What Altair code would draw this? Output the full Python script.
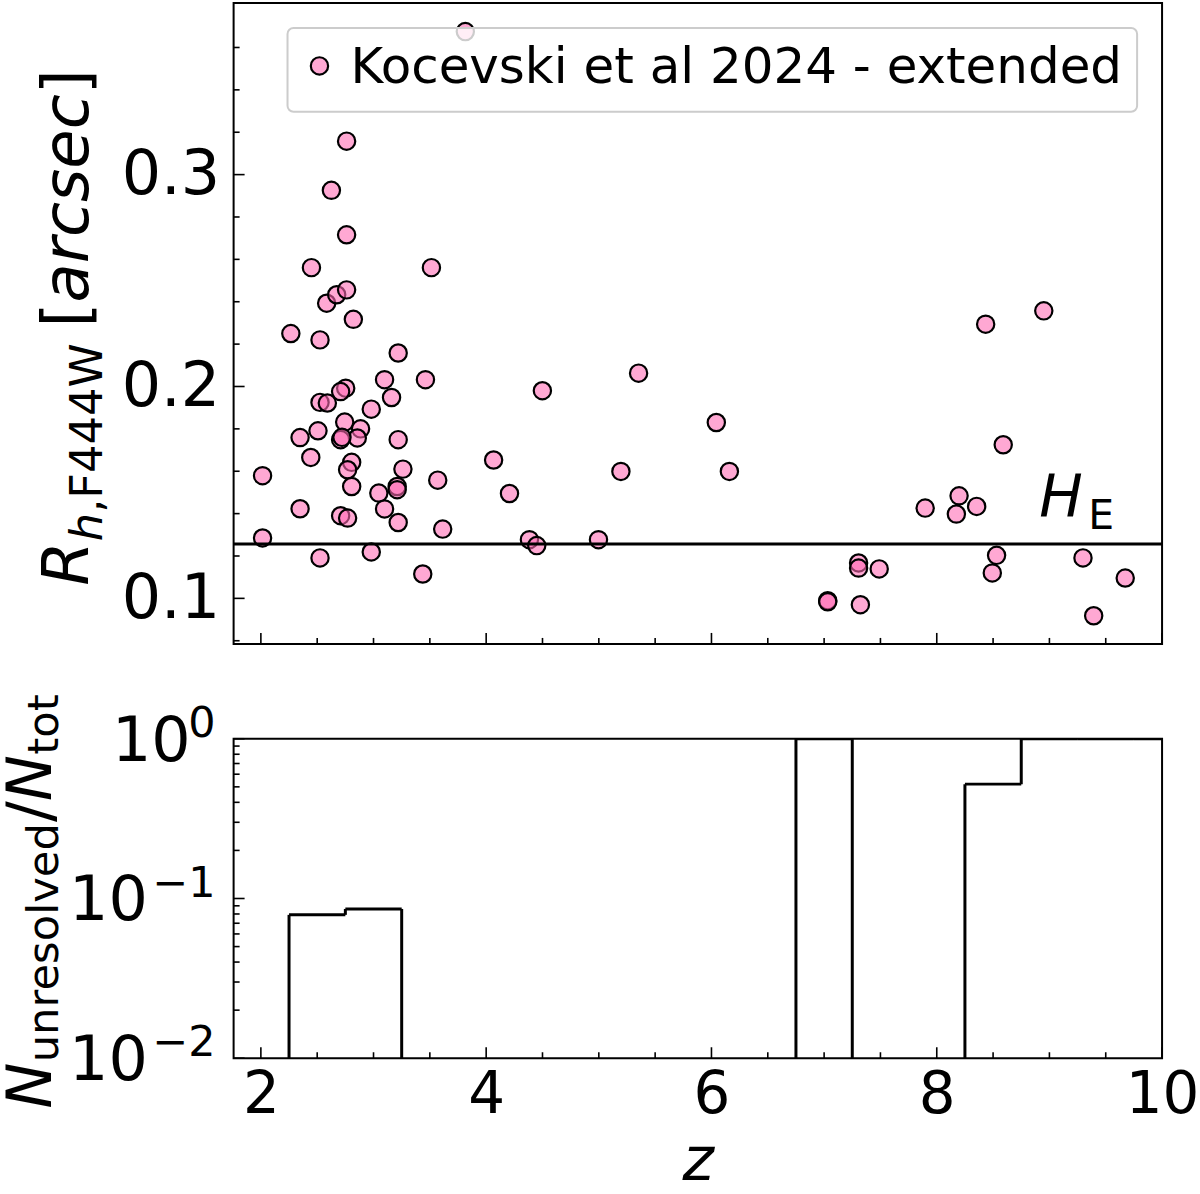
import altair as alt
import pandas as pd

# ---------------- data ----------------
z = [3.815, 2.761, 2.626, 2.761, 2.449, 3.514, 2.584, 2.673, 2.761, 2.821,
     2.266, 2.525, 3.219, 3.098, 3.461, 4.499, 3.160, 2.753, 2.708, 2.525,
     2.590, 2.980, 2.744, 2.885, 2.856, 2.708, 2.720, 2.507, 2.348, 3.219,
     2.443, 2.015, 2.806, 2.770, 3.261, 2.806, 3.570, 3.210, 3.210, 4.066,
     3.047, 4.207, 2.348, 3.098, 2.708, 2.770, 3.219, 3.614, 2.015, 4.384,
     4.449, 2.525, 2.980, 3.437, 5.353, 6.043, 5.196, 6.159, 4.997, 7.306,
     7.306, 7.032, 7.032, 7.322, 8.950, 8.434, 8.590, 7.897, 8.198, 8.174,
     8.354, 7.489, 8.531, 8.493, 9.298, 9.393, 9.673]
r_h = [0.3675, 0.3158, 0.2926, 0.2716, 0.2561, 0.2561, 0.2393, 0.2433, 0.2456, 0.2317,
       0.2250, 0.2220, 0.2158, 0.2032, 0.2032, 0.1980, 0.1948, 0.1992, 0.1976, 0.1925,
       0.1922, 0.1893, 0.1832, 0.1800, 0.1757, 0.1749, 0.1760, 0.1791, 0.1759, 0.1749,
       0.1665, 0.1579, 0.1642, 0.1607, 0.1610, 0.1528, 0.1558, 0.1528, 0.1513, 0.1653,
       0.1497, 0.1495, 0.1423, 0.1422, 0.1390, 0.1379, 0.1358, 0.1327, 0.1285, 0.1277,
       0.1249, 0.1191, 0.1219, 0.1115, 0.2063, 0.1830, 0.1599, 0.1599, 0.1277, 0.1167,
       0.1143, 0.0989, 0.0984, 0.0970, 0.2357, 0.2294, 0.1725, 0.1426, 0.1484, 0.1398,
       0.1434, 0.1139, 0.1203, 0.1120, 0.1191, 0.0918, 0.1096]

he_value = [0.1257]

hist_lo = [1.75, 2.25, 2.75, 3.25, 3.75, 4.25, 4.75, 5.25, 5.75, 6.25, 6.75, 7.25, 7.75, 8.25, 8.75, 9.25, 9.75]
hist_hi = [2.25, 2.75, 3.25, 3.75, 4.25, 4.75, 5.25, 5.75, 6.25, 6.75, 7.25, 7.75, 8.25, 8.75, 9.25, 9.75, 10.25]
hist_frac = [0, 0.079, 0.086, 0, 0, 0, 0, 0, 0, 0, 1.0, 0, 0, 0.52, 1.0, 1.0, 1.0]

legend_label = "Kocevski et al 2024 - extended"

top_ymajor = [0.1, 0.2, 0.3]
top_yminor = [0.08, 0.12, 0.14, 0.16, 0.18, 0.22, 0.24, 0.26, 0.28, 0.32, 0.34, 0.36]
x_major = [2, 4, 6, 8, 10]
x_minor = [2.5, 3, 3.5, 4.5, 5, 5.5, 6.5, 7, 7.5, 8.5, 9, 9.5]
bot_ymajor = [1.0, 0.1, 0.01]
bot_ylabel_exp = ["0", "−1", "−2"]
bot_yminor = [0.02, 0.03, 0.04, 0.05, 0.06, 0.07, 0.08, 0.09,
              0.2, 0.3, 0.4, 0.5, 0.6, 0.7, 0.8, 0.9]

# ---------------- layout / style ----------------
W, H1, H2 = 930, 642, 320
FONT = "DejaVu Sans"
YTICK_FS = 62
XTICK_FS = 58
EXP_FS = 43
MAJ, MIN = 11, 6
BASE_RIGHT = [-43, -86, -86]   # right edge of the "10" part of each log label (px)
EXP_RIGHT = -18                # right edge of the exponent (px)

xscale = alt.Scale(domain=[1.758, 10.0], nice=False, zero=False)
y1scale = alt.Scale(domain=[0.0785, 0.381], nice=False, zero=False)
y2scale = alt.Scale(type="log", domain=[0.01, 1.0], nice=False)

ax_top_y = alt.Axis(values=top_ymajor, format=".1f", labelFontSize=YTICK_FS, labelFont=FONT,
                    labelColor="black", labelPadding=14, ticks=False, tickSize=0, domain=False,
                    grid=False, title=None)
ax_bot_x = alt.Axis(values=x_major, format="d", labelFontSize=XTICK_FS, labelFont=FONT,
                    labelColor="black", labelPadding=8, labelFlush=False, ticks=False, tickSize=0,
                    domain=False, grid=False, title="z", titleFont=FONT, titleFontSize=60,
                    titleFontStyle="italic", titleFontWeight="normal", titleColor="black",
                    titlePadding=8)

# DejaVu Sans advance widths (em)
ADV = {"R": .695, "h": .634, ",": .318, "F": .575, "4": .636, "W": .989, "[": .390,
       "a": .613, "r": .411, "c": .550, "s": .521, "e": .615, "]": .390, "N": .748,
       "u": .634, "n": .634, "o": .612, "l": .278, "v": .592, "d": .635, "/": .337,
       "t": .392, " ": .318}

dummy = pd.DataFrame({"k": [0]})


def text_width(t, fs):
    return sum(ADV.get(ch, 0.6) for ch in t) * fs


def rotated_title(segs, x_main, x_sub, center, fb):
    # segs: (text, big, italic, extra_gap_after)
    fs_sub = 0.7 * fb
    total = sum(text_width(t, fb if big else fs_sub) + g for t, big, _, g in segs)
    y = center + total / 2
    out = []
    for t, big, ital, g in segs:
        fs = fb if big else fs_sub
        out.append(alt.Chart(dummy).mark_text(
            text=t, angle=270, align="left", baseline="alphabetic", font=FONT,
            fontSize=fs, fontStyle="italic" if ital else "normal", color="black"
        ).encode(x=alt.value(x_main if big else x_sub), y=alt.value(y)))
        y -= text_width(t, fs) + g
    return out


def yticks(vals, length, scale, axis):
    return alt.Chart(pd.DataFrame({"v": vals})).mark_rule(color="black", strokeWidth=1.6).encode(
        y=alt.Y("v:Q", scale=scale, axis=axis), x=alt.value(0), x2=alt.value(length))


def xticks(vals, length, scale, h, axis):
    return alt.Chart(pd.DataFrame({"v": vals})).mark_rule(color="black", strokeWidth=1.6).encode(
        x=alt.X("v:Q", scale=scale, axis=axis), y=alt.value(h), y2=alt.value(h - length))


# ---------------- top panel ----------------
pts_df = pd.DataFrame({"z": z, "r": r_h})
points = alt.Chart(pts_df).mark_circle(
    size=300, fill="hotpink", fillOpacity=0.58, stroke="black", strokeWidth=2.2, opacity=1
).encode(
    x=alt.X("z:Q", scale=xscale, axis=None),
    y=alt.Y("r:Q", scale=y1scale, axis=ax_top_y),
)

he_rule = alt.Chart(pd.DataFrame({"he": he_value})).mark_rule(color="black", strokeWidth=3).encode(
    y=alt.Y("he:Q", scale=y1scale, axis=ax_top_y))

he_H = alt.Chart(dummy).mark_text(text="H", font=FONT, fontSize=58, fontStyle="italic",
                                  align="left", baseline="alphabetic", color="black").encode(
    x=alt.value(807), y=alt.value(514))
he_E = alt.Chart(dummy).mark_text(text="E", font=FONT, fontSize=41,
                                  align="left", baseline="alphabetic", color="black").encode(
    x=alt.value(856), y=alt.value(527))

leg_box = alt.Chart(dummy).mark_rect(fill="white", fillOpacity=0.8, stroke="#cccccc",
                                     strokeWidth=2, cornerRadius=6).encode(
    x=alt.value(54), x2=alt.value(905), y=alt.value(25), y2=alt.value(109))
leg_dot = alt.Chart(dummy).mark_circle(size=300, fill="hotpink", fillOpacity=0.58, stroke="black",
                                       strokeWidth=2.2, opacity=1).encode(
    x=alt.value(86), y=alt.value(63))
leg_txt = alt.Chart(dummy).mark_text(text=legend_label, font=FONT, fontSize=50, align="left",
                                     baseline="alphabetic", color="black").encode(
    x=alt.value(117), y=alt.value(80))

top_title = rotated_title(
    [("R", True, True, 0), ("h", False, True, 0), (",", False, False, 0),
     ("F444W", False, False, 16), ("[", True, False, 0), ("arcsec", True, True, 0),
     ("]", True, False, 0)],
    x_main=-146, x_sub=-132, center=H1 / 2 + 4, fb=64)

top = alt.layer(
    points, he_rule, he_H, he_E,
    yticks(top_ymajor, MAJ, y1scale, ax_top_y), yticks(top_yminor, MIN, y1scale, ax_top_y),
    xticks(x_major, MAJ, xscale, H1, None), xticks(x_minor, MIN, xscale, H1, None),
    leg_box, leg_dot, leg_txt, *top_title
).properties(width=W, height=H1)

# ---------------- bottom panel ----------------
floor = 0.01
segs = []
prev = 0
for lo, hi, f in zip(hist_lo, hist_hi, hist_frac):
    if f != prev:
        segs.append({"x": lo, "x2": lo, "y": max(prev, floor), "y2": max(f, floor)})
    if f > 0:
        segs.append({"x": lo, "x2": hi, "y": f, "y2": f})
    prev = f
if prev > 0:
    segs.append({"x": hist_hi[-1], "x2": hist_hi[-1], "y": prev, "y2": floor})
seg_df = pd.DataFrame(segs)

hist = alt.Chart(seg_df).mark_rule(color="black", strokeWidth=3, clip=True).encode(
    x=alt.X("x:Q", scale=xscale, axis=ax_bot_x),
    x2="x2:Q",
    y=alt.Y("y:Q", scale=y2scale, axis=None),
    y2="y2:Q",
)

# log-axis labels written as "10" + superscript exponent
ylabels = []
for v, e, br in zip(bot_ymajor, bot_ylabel_exp, BASE_RIGHT):
    ylabels.append(alt.Chart(dummy).mark_text(
        text="10", font=FONT, fontSize=YTICK_FS, align="right", baseline="alphabetic",
        dy=22, color="black").encode(x=alt.value(br), y=alt.datum(v, scale=y2scale)))
    ylabels.append(alt.Chart(dummy).mark_text(
        text=e, font=FONT, fontSize=EXP_FS, align="right", baseline="alphabetic",
        dy=-2, color="black").encode(x=alt.value(EXP_RIGHT), y=alt.datum(v, scale=y2scale)))

bot_title = rotated_title(
    [("N", True, True, 0), ("unresolved", False, False, 0), ("/", True, False, 0),
     ("N", True, True, 0), ("tot", False, False, 0)],
    x_main=-183, x_sub=-176, center=H2 / 2 + 3, fb=62)

bottom = alt.layer(
    hist,
    yticks(bot_ymajor, MAJ, y2scale, None), yticks(bot_yminor, MIN, y2scale, None),
    xticks(x_major, MAJ, xscale, H2, ax_bot_x), xticks(x_minor, MIN, xscale, H2, ax_bot_x),
    *ylabels, *bot_title
).properties(width=W, height=H2)

chart = alt.vconcat(top, bottom, spacing=95, bounds="flush").properties(
    padding={"left": 0, "top": 1, "right": 0, "bottom": 0}, background="white"
).configure_view(stroke="black", strokeWidth=2)

chart.save("out.html", embed_options={"renderer": "svg", "actions": False})
